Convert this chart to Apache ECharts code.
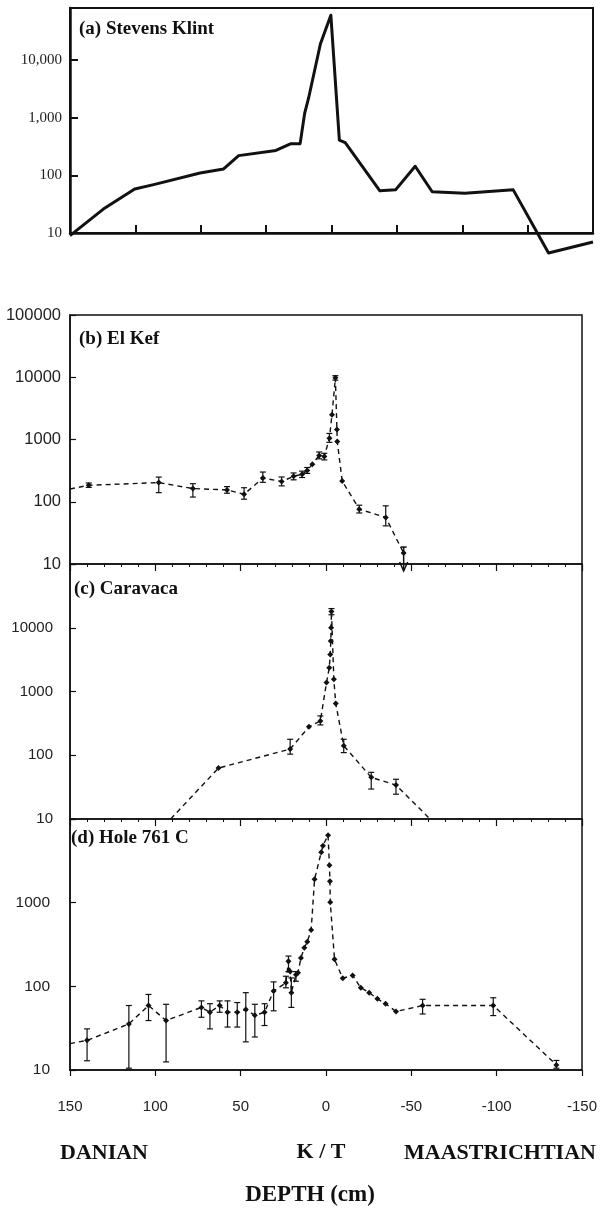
<!DOCTYPE html>
<html>
<head>
<meta charset="utf-8">
<script src="https://cdn.jsdelivr.net/npm/echarts@6/dist/echarts.min.js"></script>
<style>
html, body { margin: 0; padding: 0; background: #fff; }
#chart { width: 605px; height: 1218px; }
</style>
</head>
<body>
<div id="chart"></div>
<script>
// (a) Stevens Klint, own depth scale, no error bars
const depthA = [40, 34.9, 30.1, 27.2, 20.1, 16.5, 14.2, 8.5, 6.2, 4.8, 4.1, 3.5, 1.7, 0.1, -1.2, -2.1, -7.4, -9.8, -12.8, -15.4, -20.4, -27.8, -33.2, -40];
const valueA = [9, 26, 58, 69, 110, 129, 220, 270, 355, 355, 1200, 2200, 19000, 60000, 410, 370, 54, 56, 144, 52, 49, 56, 4.5, 7];

// (b) El Kef
const depthB = [150, 139, 98, 78, 58, 48, 37, 26, 19, 14, 11, 8, 4, 1, -2, -3.5, -5.5, -6.4, -6.6, -9.5, -19.5, -35, -45.5];
const valueB = [160, 184, 203, 163, 155, 132, 240, 212, 256, 277, 318, 400, 554, 533, 1050, 2500, 9800, 1450, 930, 215, 76, 56, 15];
const barDepthB = [139, 98, 78, 58, 48, 37, 26, 19, 14, 11, 4, 1, -2, -5.5, -19.5, -35];
const barLowB = [170, 140, 119, 137, 110, 205, 180, 225, 245, 285, 490, 470, 900, 9000, 66, 41];
const barHighB = [200, 249, 195, 175, 168, 300, 250, 290, 310, 355, 630, 600, 1250, 10600, 88, 86];
// upper limit (arrow down)
const limitDepthB = [-45.5];
const limitValueB = [15];

// (c) Caravaca
const depthC = [91, 63, 21, 10, 3.3, -0.3, -1.9, -2.5, -2.8, -3.0, -3.2, -4.6, -5.7, -10.4, -26.5, -41, -61];
const valueC = [10, 63, 125, 279, 346, 1380, 2350, 3800, 6200, 10000, 18000, 1550, 650, 141, 45, 34, 10];
const barDepthC = [21, 3.3, -3.2, -10.4, -26.5, -41];
const barLowC = [104, 299, 16000, 110, 29.5, 24.5];
const barHighC = [178, 414, 20000, 178, 54, 42];

// (d) Hole 761 C
const depthD = [150, 140, 115.5, 104, 93.7, 73, 68, 62.3, 57.7, 52, 47, 41.7, 36, 30.7, 23.5, 22, 21, 20.3, 17.6, 16.4,
    14.7, 12.7, 11, 8.7, 6.7, 2.8, 1.8, -1.2, -2, -2.3, -2.5, -5, -9.8, -15.6, -20.4, -25.3, -30.1, -34.9, -41, -56.6, -98, -135];
const valueD = [20.7, 22.6, 35.5, 59, 39, 56, 49, 59, 49, 49, 53, 45, 49, 88, 110, 200, 150, 84, 138, 145,
    218, 290, 340, 470, 1900, 4000, 4800, 6400, 2800, 1800, 1010, 210, 125, 135, 96, 84, 71, 62, 50, 59, 59, 11.5];
const barDepthD = [140, 115.5, 104, 93.7, 73, 68, 62.3, 57.7, 52, 47, 41.7, 36, 30.7, 23.5, 22, 20.3, 17.6, -56.6, -98, -135];
const barLowD = [12.9, 10.5, 39, 12.5, 42.7, 31, 49, 32.6, 32.6, 21.7, 24.8, 34, 51, 96, 150, 56, 115, 46.7, 44.7, 10.5];
const barHighD = [31, 59, 80, 61, 67, 62, 67, 67, 64, 84, 61, 62, 113, 132, 230, 126, 150, 70, 73, 13];

const depthTicks = [-150, 150, 50]; // min, max, interval

const ink = '#111';
const serif = '"Liberation Serif", "DejaVu Serif", serif';
const sans = '"Liberation Sans", Arial, sans-serif';

function pairs(xs, ys) { return xs.map((x, i) => [x, ys[i]]); }
function triples(xs, lo, hi) { return xs.map((x, i) => [x, lo[i], hi[i]]); }
function isDecade(v) {
    let l = Math.log10(v);
    return Math.abs(l - Math.round(l)) < 1e-6;
}

function renderBar(params, api) {
    let top = api.coord([api.value(0), api.value(2)]);
    let bot = api.coord([api.value(0), api.value(1)]);
    let w = 3;
    let style = { stroke: ink, lineWidth: 1.2, fill: null };
    return {
        type: 'group',
        children: [
            { type: 'line', shape: { x1: top[0], y1: top[1], x2: bot[0], y2: bot[1] }, style: style },
            { type: 'line', shape: { x1: top[0] - w, y1: top[1], x2: top[0] + w, y2: top[1] }, style: style },
            { type: 'line', shape: { x1: bot[0] - w, y1: bot[1], x2: bot[0] + w, y2: bot[1] }, style: style }
        ]
    };
}

function renderArrow(params, api) {
    let p = api.coord([api.value(0), api.value(1)]);
    let base = api.coord([api.value(0), 10]);
    let tip = base[1] + 7;
    let style = { stroke: ink, lineWidth: 1.5, fill: null };
    return {
        type: 'group',
        children: [
            { type: 'line', shape: { x1: p[0], y1: p[1] - 6, x2: p[0], y2: tip }, style: style },
            { type: 'line', shape: { x1: p[0] - 3, y1: p[1] - 6, x2: p[0] + 3, y2: p[1] - 6 }, style: style },
            { type: 'polyline', shape: { points: [[p[0] - 4, tip - 9], [p[0], tip], [p[0] + 4, tip - 9]] }, style: style }
        ]
    };
}

function depthAxis(gridIndex, extra) {
    return Object.assign({
        type: 'value', gridIndex: gridIndex, inverse: true,
        min: depthTicks[0], max: depthTicks[1], interval: depthTicks[2],
        axisLine: { show: false, onZero: false },
        axisTick: { show: false },
        axisLabel: { show: false },
        splitLine: { show: false }
    }, extra);
}

function logAxis(gridIndex, max, showTop, margin, fontSize) {
    return {
        type: 'log', logBase: 10, gridIndex: gridIndex, min: 10, max: max,
        axisLine: { show: true, onZero: false, lineStyle: { color: ink, width: 1.5 } },
        axisTick: { inside: true, length: 6, lineStyle: { color: ink, width: 1.2 } },
        axisLabel: {
            color: '#222', fontFamily: sans, fontSize: fontSize, margin: margin,
            showMaxLabel: true,
            formatter: v => (isDecade(v) && (showTop || v < max)) ? String(Math.round(v)) : ''
        },
        splitLine: { show: false }
    };
}

function dashedLine(xi, data) {
    return {
        type: 'line', xAxisIndex: xi, yAxisIndex: xi, data: data,
        symbol: v => (Math.abs(v[0]) >= 150 || v[1] <= 10) ? 'none' : 'diamond',
        symbolSize: 6,
        itemStyle: { color: ink },
        lineStyle: { color: ink, width: 1.4, type: [5, 4] },
        clip: false
    };
}

function barSeries(xi, data) {
    return {
        type: 'custom', xAxisIndex: xi, yAxisIndex: xi, data: data,
        encode: { x: 0, y: [1, 2] },
        renderItem: renderBar
    };
}

const topTicks = {
    position: 'top',
    axisTick: { show: true, inside: true, length: 7, lineStyle: { color: ink, width: 1.2 } },
    minorTick: { show: true, splitNumber: 5, length: 3, lineStyle: { color: ink, width: 1 } }
};

const titleStyle = { fill: ink, font: 'bold 19px ' + serif, textVerticalAlign: 'middle' };
const bigStyle = { fill: ink, font: 'bold 22px ' + serif, textVerticalAlign: 'middle' };
const depthStyle = { fill: ink, font: 'bold 23px ' + serif, textVerticalAlign: 'middle' };

function label(text, x, y, style, align) {
    return { type: 'text', x: x, y: y, style: Object.assign({ text: text, textAlign: align || 'left' }, style) };
}

var chart = echarts.init(document.getElementById('chart'), null, { renderer: 'canvas' });

var option = {
    animation: false,
    backgroundColor: '#fff',
    grid: [
        { left: 70, top: 8, width: 523, height: 225, show: true, borderColor: ink, borderWidth: 2 },
        { left: 70, top: 315, width: 512, height: 249, show: true, borderColor: ink, borderWidth: 1.5 },
        { left: 70, top: 564, width: 512, height: 255, show: true, borderColor: ink, borderWidth: 1.5 },
        { left: 70, top: 819, width: 512, height: 251, show: true, borderColor: ink, borderWidth: 1.5 }
    ],
    xAxis: [
        {
            type: 'value', gridIndex: 0, inverse: true, min: -40, max: 40, interval: 10,
            axisLine: { show: true, onZero: false, lineStyle: { color: ink, width: 2.5 } },
            axisTick: { inside: true, length: 8, lineStyle: { color: ink, width: 2 } },
            axisLabel: { show: false },
            splitLine: { show: false }
        },
        depthAxis(1),
        depthAxis(2),
        depthAxis(3, {
            axisLine: { show: true, onZero: false, lineStyle: { color: ink, width: 1.5 } },
            axisTick: { show: true, inside: false, length: 6, lineStyle: { color: ink, width: 1.2 } },
            axisLabel: { show: true, color: '#222', fontFamily: sans, fontSize: 15, margin: 29 }
        }),
        depthAxis(2, topTicks),
        depthAxis(3, topTicks)
    ],
    yAxis: [
        {
            type: 'log', logBase: 10, gridIndex: 0, min: 10, max: 80000,
            axisLine: { show: true, onZero: false, lineStyle: { color: ink, width: 2.5 } },
            axisTick: { inside: true, length: 8, lineStyle: { color: ink, width: 2 } },
            axisLabel: {
                color: '#222', fontFamily: serif, fontSize: 15, margin: 8,
                formatter: v => isDecade(v) ? Math.round(v).toLocaleString('en-US') : ''
            },
            splitLine: { show: false }
        },
        logAxis(1, 100000, true, 9, 16.5),
        logAxis(2, 100000, false, 17, 15),
        logAxis(3, 10000, false, 20, 15.5)
    ],
    series: [
        {
            type: 'line', xAxisIndex: 0, yAxisIndex: 0, data: pairs(depthA, valueA),
            showSymbol: false, symbol: 'none', clip: false,
            lineStyle: { color: ink, width: 3, join: 'round' }
        },
        dashedLine(1, pairs(depthB, valueB)),
        barSeries(1, triples(barDepthB, barLowB, barHighB)),
        {
            type: 'custom', xAxisIndex: 1, yAxisIndex: 1,
            data: pairs(limitDepthB, limitValueB),
            encode: { x: 0, y: 1 },
            renderItem: renderArrow
        },
        dashedLine(2, pairs(depthC, valueC)),
        barSeries(2, triples(barDepthC, barLowC, barHighC)),
        dashedLine(3, pairs(depthD, valueD)),
        barSeries(3, triples(barDepthD, barLowD, barHighD))
    ],
    graphic: [
        label('(a) Stevens Klint', 79, 29, titleStyle),
        label('(b) El Kef', 79, 339, titleStyle),
        label('(c) Caravaca', 74, 589, titleStyle),
        label('(d) Hole 761 C', 71, 838, titleStyle),
        label('DANIAN', 60, 1153, bigStyle),
        label('K / T', 321, 1152, bigStyle, 'center'),
        label('MAASTRICHTIAN', 404, 1153, bigStyle),
        label('DEPTH (cm)', 310, 1195, depthStyle, 'center')
    ]
};

chart.setOption(option);
</script>
</body>
</html>
